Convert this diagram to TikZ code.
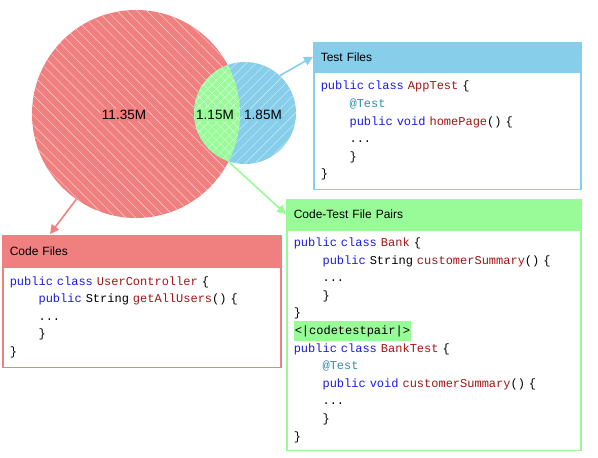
\documentclass[tikz,border=0pt]{standalone}
\usepackage{fontspec}
\setmainfont{Liberation Sans}
\setmonofont{Liberation Mono}
\usepackage{xcolor}
\usetikzlibrary{arrows.meta,positioning,patterns.meta}
\definecolor{codered}{HTML}{F08080}
\definecolor{testblue}{HTML}{87CEEB}
\definecolor{pairgreen}{HTML}{98FB98}
\definecolor{kwblue}{HTML}{1A1AE6}
\definecolor{idred}{HTML}{A31515}
\definecolor{annteal}{HTML}{2B91AF}
\newcommand{\kw}[1]{\textcolor{kwblue}{#1}}
\newcommand{\nm}[1]{\textcolor{idred}{#1}}
\newcommand{\an}[1]{\textcolor{annteal}{#1}}
\newcommand{\ind}{\phantom{xxxx}}
\newcommand{\pairtag}[1]{{\setlength{\fboxsep}{1pt}\colorbox{pairgreen}{\strut#1}}}

\begin{document}
\begin{tikzpicture}[x=1pt, y=-1pt,
  setcircle/.style={circle, inner sep=0pt, minimum size=#1},
  setlabel/.style={font=\fontsize{13.5}{16}\selectfont, inner sep=1pt},
  head/.style={anchor=north west, rectangle, line width=1.5pt, inner xsep=7pt, align=left, font=\fontsize{12}{14}\selectfont},
  codebody/.style={rectangle, fill=white, line width=1.5pt, inner xsep=7pt, inner ysep=0pt, align=left, font=\ttfamily\fontsize{12}{17.6}\selectfont},
  setarr/.style={-{Triangle[length=9pt,width=9pt]}, line width=1.6pt}
]
\useasboundingbox (0,0) rectangle (598,458);

% sets
\node[setcircle=208pt, preaction={fill=codered}, pattern={Lines[angle=-45, distance=7pt, line width=0.4pt]}, pattern color=codered!35!white] (codeset) at (136,114) {};
\node[setcircle=102pt, preaction={fill=testblue}, pattern={Lines[angle=45, distance=7pt, line width=0.4pt]}, pattern color=testblue!35!white] (testset) at (245,113) {};
\begin{scope}
  \clip (testset.center) circle (51pt);
  \path[preaction={fill=pairgreen}, pattern={Hatch[angle=45, distance=6pt, line width=0.4pt]}, pattern color=pairgreen!35!white] (codeset.center) circle (104pt);
\end{scope}
\node[setlabel, fill=codered] (codecount) at (124,115) {11.35M};
\node[setlabel, fill=pairgreen] (paircount) at (215,115) {1.15M};
\node[setlabel, fill=testblue] (testcount) at (263,115) {1.85M};

% Test Files
\node[head, fill=testblue, draw=testblue, text width=253pt, minimum height=28pt] (testhead) at (313,42) {Test Files};
\node[codebody, draw=testblue, below=0pt of testhead, text width=253pt, minimum height=117pt] (testbody) {%
\kw{public class} \nm{AppTest} \{\\
\ind\an{@Test}\\
\ind\kw{public void} \nm{homePage}() \{\\
\ind...\\
\ind\}\\
\}};

% Code Files
\node[head, fill=codered, draw=codered, text width=264pt, minimum height=30pt] (codehead) at (2,235) {Code Files};
\node[codebody, draw=codered, below=0pt of codehead, text width=264pt, minimum height=100pt] (codebody) {%
\kw{public class} \nm{UserController} \{\\
\ind\kw{public} String \nm{getAllUsers}() \{\\
\ind...\\
\ind\}\\
\}};

% Code-Test File Pairs
\node[head, fill=pairgreen, draw=pairgreen, text width=280pt, minimum height=29pt] (pairhead) at (286,199) {Code-Test File Pairs};
\node[codebody, draw=pairgreen, below=0pt of pairhead, text width=280pt, minimum height=220pt] (pairbody) {%
\kw{public class} \nm{Bank} \{\\
\ind\kw{public} String \nm{customerSummary}() \{\\
\ind...\\
\ind\}\\
\}\\
\pairtag{<|codetestpair|>}\\
\kw{public class} \nm{BankTest} \{\\
\ind\an{@Test}\\
\ind\kw{public void} \nm{customerSummary}() \{\\
\ind...\\
\ind\}\\
\}};

% connectors
\coordinate (codein) at (50,234);
\draw[setarr, codered] (codeset.235) -- (codein);
\draw[setarr, testblue] (testset.47) -- (testhead.west);
\draw[setarr, pairgreen] (testset.251) -- (pairhead.west);
\end{tikzpicture}
\end{document}
